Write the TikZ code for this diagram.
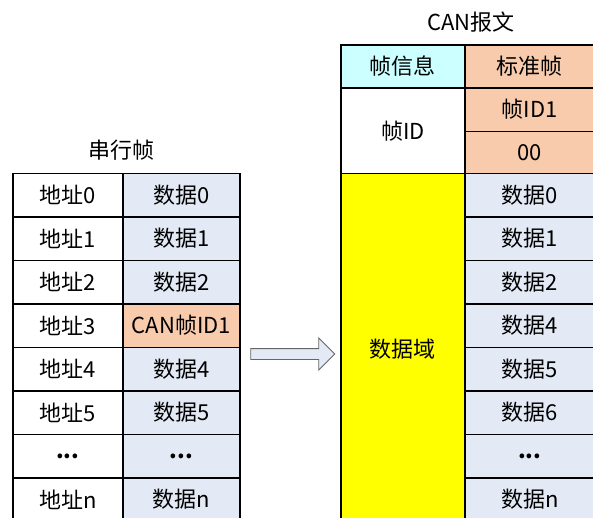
\documentclass[tikz,border=0pt]{standalone}
\usepackage{fontspec}
\setmainfont{Noto Sans CJK SC}
\usetikzlibrary{positioning,shapes.arrows}

\definecolor{datablue}{HTML}{E3EAF5}
\definecolor{idorange}{HTML}{F8CBAD}
\definecolor{infocyan}{HTML}{CCFFFF}
\definecolor{fieldyellow}{HTML}{FFFF00}

\tikzset{
  cell/.style={draw=black, line width=1.6pt, inner sep=0pt, anchor=north west,
    font=\fontsize{22}{22}\selectfont},
  title/.style={font=\fontsize{22}{22}\selectfont}
}

\begin{document}
\begin{tikzpicture}[x=1pt,y=-1pt]
    \useasboundingbox (0,0) rectangle (593,517);
    \def\rh{43.5}
    \def\rowzero{172.5}

    % serial frame
    \node[title] (serialtitle) at (121,150) {串行帧};
    \foreach \i/\addr/\dat/\col in {0/地址0/数据0/datablue, 1/地址1/数据1/datablue,
        2/地址2/数据2/datablue, 3/地址3/CAN帧ID1/idorange, 4/地址4/数据4/datablue,
        5/地址5/数据5/datablue, 6/{\bfseries ...}/{\bfseries ...}/datablue,
        7/地址n/数据n/datablue}{
      \pgfmathsetmacro{\y}{\rowzero + \i*\rh}
      \node[cell, fill=white, minimum width=110pt, minimum height=\rh pt] (addr\i) at (12,\y) {\addr};
      \node[cell, fill=\col, minimum width=117pt, minimum height=\rh pt] (dat\i) at (122,\y) {\dat};
    }

    % conversion arrow
    \node[single arrow, draw=gray!80!black, fill=datablue, line width=0.8pt,
      inner xsep=0pt, inner ysep=5pt, minimum height=84pt,
      single arrow head extend=10.5pt] (conv) at (290,354) {};

    % CAN message
    \node[title] (cantitle) at (471,22) {CAN报文};
    \node[cell, fill=infocyan, minimum width=124pt, minimum height=43pt] (info) at (340,44) {帧信息};
    \node[cell, fill=idorange, minimum width=130pt, minimum height=43pt] (std) at (464,44) {标准帧};
    \node[cell, fill=white, minimum width=124pt, minimum height=86.5pt] (frameid) at (340,87) {帧ID};
    \node[cell, fill=idorange, minimum width=130pt, minimum height=43.5pt] (id1) at (464,87) {帧ID1};
    \node[cell, fill=idorange, minimum width=130pt, minimum height=43pt] (id2) at (464,130.5) {00};
    \node[cell, fill=fieldyellow, minimum width=124pt, minimum height=352pt] (field) at (340,\rowzero) {数据域};
    \foreach \i/\dat in {0/数据0, 1/数据1, 2/数据2, 3/数据4, 4/数据5, 5/数据6,
        6/{\bfseries ...}, 7/数据n}{
      \pgfmathsetmacro{\y}{\rowzero + \i*\rh}
      \node[cell, fill=datablue, minimum width=130pt, minimum height=\rh pt] (can\i) at (464,\y) {\dat};
    }
\end{tikzpicture}
\end{document}
